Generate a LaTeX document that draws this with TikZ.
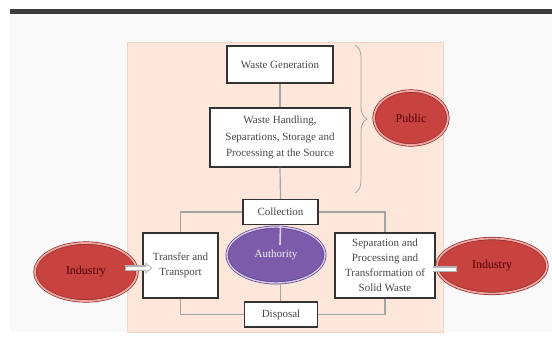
\documentclass[tikz,border=0pt]{standalone}
\usepackage{fontspec}
\setmainfont{Liberation Serif}
\usetikzlibrary{calc,shapes.geometric,arrows.meta,decorations.pathreplacing}
\definecolor{panel}{HTML}{FCE7DA}
\definecolor{panelline}{HTML}{F0D6C6}
\definecolor{boxtext}{HTML}{484848}
\definecolor{conn}{HTML}{A4A4A4}
\definecolor{redfill}{HTML}{C8433F}
\definecolor{redline}{HTML}{8E2A2A}
\definecolor{redring}{HTML}{F2A7A0}
\definecolor{purfill}{HTML}{7C5BAA}
\definecolor{purline}{HTML}{5A3E88}
\definecolor{purring}{HTML}{DCCDF2}
\definecolor{topbar}{HTML}{3C3C3C}
\definecolor{pagebg}{HTML}{F9F9F9}
\tikzset{
  stepbox/.style={draw=black!80, line width=1.4pt, fill=white, text=boxtext,
    align=center, inner sep=1pt, font=\fontsize{11}{15}\selectfont},
  redell/.style={ellipse, draw=redline, line width=0.7pt, double=redring,
    double distance=1.8pt, fill=redfill, text=black!70!red,
    font=\fontsize{12}{13}\selectfont},
  purell/.style={ellipse, draw=purline, line width=0.7pt, double=purring,
    double distance=1.4pt, fill=purfill, text=white!90!purfill,
    font=\fontsize{11}{12}\selectfont},
  connline/.style={draw=conn, line width=1.2pt},
}
\begin{document}
\begin{tikzpicture}[x=1pt,y=-1pt]
\useasboundingbox (0,0) rectangle (552,340);
\fill[white] (0,0) rectangle (552,340);
\fill[pagebg] (10,14) rectangle (552,332);
\fill[topbar] (10,9) rectangle (552,14);
% panel
\draw[panelline, fill=panel, line width=0.8pt] (127,42) rectangle (443,332);

% nodes
\node[stepbox, minimum width=106pt, minimum height=37pt] (wg) at (280,64.5) {Waste Generation};
\node[stepbox, minimum width=140pt, minimum height=59pt, font=\fontsize{11}{16.5}\selectfont] (wh) at (280,137.5)
  {Waste Handling,\\Separations, Storage and\\Processing at the Source};
\node[stepbox, minimum width=75pt, minimum height=25pt] (col) at (280.5,212) {Collection};
\node[purell, minimum width=98pt, minimum height=56pt] (auth) at (276,255) {Authority};
\node[stepbox, minimum width=73pt, minimum height=25pt] (disp) at (281,314.5) {Disposal};
\node[stepbox, minimum width=75pt, minimum height=65pt] (tt) at (180.5,265.5) {Transfer and\\Transport};
\node[stepbox, minimum width=100pt, minimum height=65pt] (sep) at (385,265.5)
  {Separation and\\Processing and\\Transformation of\\Solid Waste};
\node[redell, minimum width=74pt, minimum height=54pt, inner sep=0pt] (pub) at (411,118) {Public};
\node[redell, minimum width=102pt, minimum height=58pt] (indL) at (86,272) {Industry};
\node[redell, minimum width=110pt, minimum height=55pt] (indR) at (492,266) {Industry};

% connectors
\draw[connline] (wg.south) -- (wh.north);
\draw[connline] (wh.south) -- (col.north);
\draw[connline] (col.west) -| (tt.north);
\draw[connline] (col.east) -| (sep.north);
\draw[connline] (tt.south) |- (disp.west);
\draw[connline] (sep.south) |- (disp.east);
\draw[draw=purring, line width=1.6pt] (col.south) -- ($(auth.center)+(4,-10)$);
\draw[connline] (auth.south -| col.south) -- (disp.north -| col.south);

% brace
\draw[conn, line width=0.8pt, decorate, decoration={brace, amplitude=12pt}]
  (355,45) -- (355,193);

% industry arrows
\draw[line width=5.5pt, draw=conn!85, -{Triangle[length=7pt,width=11pt]}]
  ($(indL.east)+(-12,-4)$) -- ($(tt.west)+(10,2.5)$);
\draw[line width=3pt, draw=white, -{Triangle[length=4.5pt,width=6.5pt]}]
  ($(indL.east)+(-11,-4)$) -- ($(tt.west)+(8.5,2.5)$);
\draw[line width=5.5pt, draw=conn!85] ($(sep.east)+(-3,3.5)$) -- ($(indR.west)+(20,3)$);
\draw[line width=3pt, draw=white] ($(sep.east)+(-2.5,3.5)$) -- ($(indR.west)+(19.5,3)$);
\end{tikzpicture}
\end{document}
